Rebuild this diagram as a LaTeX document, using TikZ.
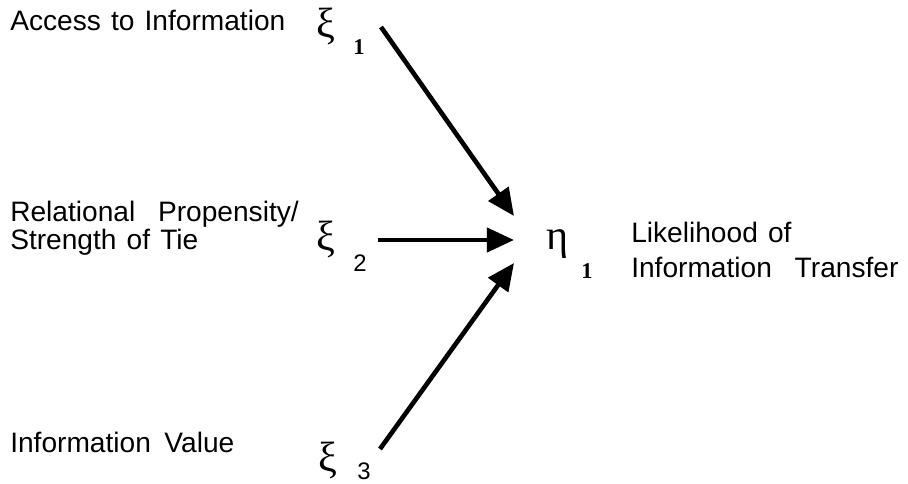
\documentclass[tikz,border=0pt]{standalone}
\usepackage{fontspec}
\setmainfont{Liberation Sans}
\newfontfamily\grk{Liberation Serif}
\usetikzlibrary{arrows.meta}
\newcommand{\wsp}[1]{\hspace{#1em}}
\newcommand{\lblfont}{\fontsize{20}{24}\selectfont\spaceskip=0.36em plus 0.1em\relax}
\tikzset{
  lbl/.style={anchor=base west, inner sep=0pt, font=\lblfont, align=left},
  grkl/.style={anchor=base west, inner sep=0pt, font=\grk\fontsize{30}{34}\selectfont},
  subs/.style={anchor=base west, inner sep=0pt, font=\fontsize{17}{20}\selectfont},
  subsr/.style={anchor=base west, inner sep=0pt, font=\grk\bfseries\fontsize{16}{19}\selectfont},
  arr/.style={line width=3.3pt, -{Triangle[length=0.68cm, width=0.6cm]}}
}
\begin{document}
\begin{tikzpicture}[x=0.025cm, y=-0.025cm]
\useasboundingbox (0,0) rectangle (908,484);
% left labels
\node[lbl] (t1) at (10,31) {Access to Information};
\node[lbl] (t2a) at (10,222) {Relational \wsp{0.45}Propensity/};
\node[lbl] (t2b) at (10,250) {Strength of Tie};
\node[lbl] (t3) at (10,453) {Information \wsp{0.12}Value};
% xi symbols
\node[grkl] (x1) at (316,38) {ξ};
\node[subsr] (s1) at (353,55) {1};
\node[grkl] (x2) at (316,251) {ξ};
\node[subs] (s2) at (353,272) {2};
\node[grkl] (x3) at (318,472) {ξ};
\node[subs] (s3) at (357,480) {3};
% eta
\node[grkl] (e1) at (546,250) {η};
\node[subsr] (es) at (581,279) {1};
\node[lbl] (r1) at (631,243) {Likelihood of};
\node[lbl] (r2) at (631,278) {Information \wsp{0.45}Transfer};
% arrow end points
\coordinate (a1) at (381,27);
\coordinate (b1) at (514,216);
\coordinate (a2) at (378,240);
\coordinate (b2) at (514,240);
\coordinate (a3) at (380,449);
\coordinate (b3) at (514,263);
\draw[arr] (a1) -- (b1);
\draw[arr] (a2) -- (b2);
\draw[arr] (a3) -- (b3);
\end{tikzpicture}
\end{document}
